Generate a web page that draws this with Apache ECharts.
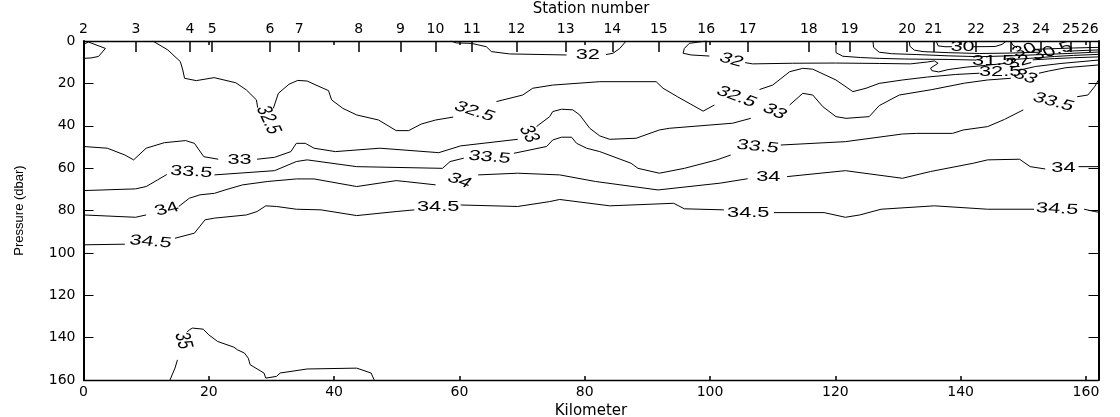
<!DOCTYPE html>
<html><head><meta charset="utf-8">
<script src="https://cdn.jsdelivr.net/npm/echarts@6/dist/echarts.min.js"></script>
<style>html,body{margin:0;padding:0;background:#fff}#chart{width:1120px;height:417px}</style>
</head><body><div id="chart"></div>
<script>
// ---- Data (km along section, pressure in dbar) ----
const kmTicks = [0, 20, 40, 60, 80, 100, 120, 140, 160];
const pressureTicks = [0, 20, 40, 60, 80, 100, 120, 140, 160];
const stationNumbers = [2,3,4,5,6,7,8,9,10,11,12,13,14,15,16,17,18,19,20,21,22,23,24,25,26];
const stationKm = [0,8.37,16.99,20.54,29.74,34.42,43.94,50.59,56.17,62.01,69.09,76.95,84.40,91.83,99.39,106.03,115.76,122.25,131.45,135.65,142.46,148.04,152.82,157.6,160.6];

// contour lines: [km, dbar]; null = gap where the label sits
const c30a = [[136.1,0],[136.4,2.3],[137.5,2.7],[138.6,2.7],null,[142.0,2.7],[145.5,2.6],[146.6,1.6],[147.3,0]];
const c30b = [[148.0,0],[148.3,1.9],[149.0,3.2],null,[151.6,4.0],[154,3.7],[158,3.3],[162,3.0]];
const c305 = [[131.8,0],[131.9,2.5],[132.6,4.3],[134,5.0],[138,5.5],[143,5.9],[148,5.7],[152.5,5.3],null,[157,4.8],[162,4.2]];
const c31 = [[126.0,0],[126.1,3.0],[127,5.3],[129,6.0],[133,6.4],[138,7.0],[143,7.4],[148,7.0],[153,6.4],[157,5.9],[162,5.2]];
const c315 = [[120.1,0],[120.1,5.5],[121.2,7.2],[124,7.8],[127,8.2],[131,8.5],[134,8.6],[138,8.7],[142.5,9.0],null,[148,8.8],[151,8.2],[155,7.3],[158,6.8],[162,6.3]];
const c32a = [[0,1.5],[0.8,0.5],[3.5,3.5],[2.4,7.3],[1.2,8.0],[0,8.2]];
const c32b = [[58.6,0],[59.5,0.9],[61.9,1.1],[64.3,2.7],[65.1,5.0],[68.0,6.1],[77.1,6.6],null,[83.4,6.4],[84.5,5.8],[85.6,3.5],[86.6,0]];
const c32c = [[99.4,0],[96.7,1.1],[95.9,3.5],[95.7,5.8],[97.0,6.6],[99.9,7.1],null,[105.6,10.2],[106.8,10.8],[113.2,10.5],[120,10.4],[127,10.6],[132,10.8],[134.7,9.9],[135.8,9.4],[136.4,10.5],[135.2,12.8],[135.4,14.0],[136.5,14.6],[138,13.5],[141,12.3],[144,11.5],[147,10.6],null,[151.5,8.9],[155,8.3],[158,7.9],[162,7.5]];
const c325 = [[11.06,0],[13.45,4.2],[15.45,9.7],[15.85,13.7],[16.13,17.6],[18.0,18.7],[20.85,17.3],[24.3,19.7],[26.0,23.1],[27.6,27.8],[27.8,31.5],null,[30.3,31.8],[31.1,24.7],[32.8,20.4],[34.2,18.6],[35.7,18.9],[37.1,20.8],[39.1,23.4],[39.6,27.8],[41.4,31.8],[43.6,34.9],[47.1,37.3],[49.9,42.3],[51.9,42.3],[53.9,39.2],[56.2,37.3],[59.0,35.9],null,[65.9,28.6],[70.1,25.5],[71.7,22.3],[74.9,20.8],[82.4,19.2],[91.4,19.2],[92.5,22.3],[94.8,26.3],[98.9,33.1],[100.7,30.2],null,[107.9,22.9],[110,20.8],[112.7,14.5],[114.8,12.9],[116.4,13.3],[120.1,18.4],[122.8,23.9],[124.9,22.3],[127,20.0],[130.7,18.4],[134.7,17.0],[139.2,15.8],[143,15.2],null,[149,14.0],[152,12.0],[156,10.6],[162,9.0]];
const c33 = [[0,49.8],[3.8,50.6],[6.6,53.8],[8.0,56.1],[10.0,50.6],[12.9,48.0],[16.3,47.0],[17.7,48.3],[19.2,54.6],[21.5,55.8],null,[27.7,55.8],[30.5,54.9],[33.1,52.2],[33.97,48.3],[35.4,48.3],[36.8,50.6],[40.2,52.2],[47.3,50.6],[56.7,52.7],[60.2,49.5],[69.3,46.4],null,[72.3,40.4],[74.4,35.7],[74.9,33.3],[76.3,32.2],[78.1,32.5],[79.2,34.9],[80.8,41.2],[82.4,44.8],[84.0,46.4],[88.2,45.9],[91.9,42.0],[93.5,41.2],[103.6,38.8],[106.5,36.5],null,[112.7,30.2],[114.8,24.7],[116.4,25.5],[118.0,31.0],[120.1,35.7],[121.7,36.5],[125.4,35.7],[127.0,30.5],[130.2,25.5],[135.3,23.0],[140.6,19.9],[144.3,18.4],[148,17.6],null,[152.5,15.2],[154,14.2],[156.8,12.6],[162,11.3]];
const c335 = [[0,70.6],[8.3,69.8],[10.0,68.7],[11.8,65.6],[13.3,63.0],null,[20.9,63.2],[30.5,61.2],[33.97,56.9],[35.7,56.1],[43.6,59.3],[57.3,60.1],[58.5,56.9],[60.7,55.3],null,[68.7,53.0],[73.9,49.8],[74.9,46.7],[76.3,45.4],[77.9,45.4],[78.7,48.3],[80.3,50.6],[82.4,52.2],[87.4,57.7],[88.5,60.1],[91.9,62.4],[95.9,60.1],[101.1,56.1],[103.3,53.8],null,[111.3,49.1],[121.6,47.5],[130.7,43.9],[133.0,43.6],[138.7,43.6],[140.4,42.0],[144.3,40.4],[147,37.0],[150.0,32.5],null,[158.6,26.3],[160.3,25.5],[161.4,21.5],[162,18.4]];
const c34 = [[0,82.1],[8.3,83.2],[10.0,82.1],null,[15.2,78.1],[16.9,74.2],[18.6,72.6],[20.9,71.9],[22.6,70.3],[25.4,67.9],[29.4,66.3],[33.97,65.1],[36.8,65.1],[43.6,68.7],[49.9,65.9],[51.6,66.4],[56.2,67.9],null,[63.0,63.2],[69.3,62.4],[76.0,63.2],[81.7,66.3],[91.7,70.3],[101.6,67.1],[106,65.0],null,[112.3,64.0],[121.6,61.2],[130.7,64.8],[135.2,61.6],[142.0,57.7],[144.3,56.1],[149.4,55.8],[151.1,59.3],[153.5,60.4],null,[158.8,59.3],[162,59.3]];
const c345 = [[0,96.2],[6.6,95.9],null,[14.6,93.1],[17.7,90.7],[19.4,84.4],[20.9,83.6],[26.0,82.1],[27.7,80.5],[29.1,77.8],[30.8,78.1],[33.97,79.4],[37.9,79.7],[43.6,82.4],[49.9,80.5],[52.8,79.7],null,[60.2,77.4],[69.3,78.1],[74.4,75.8],[76.0,74.8],[84.0,77.8],[94.2,76.6],[95.9,79.2],[102.2,79.7],null,[110.2,81.0],[118.2,81.0],[121.6,83.2],[123.9,82.1],[127.3,79.4],[135.8,77.8],[144.3,79.4],[151.7,79.4],null,[159.7,79.4],[161.4,80.5],[162,80.8]];
const c35 = [[13.8,160],[14.6,154.4],[15.0,150.5],null,[16.5,137.5],[16.9,136.3],[17.4,135.5],[19.1,136.0],[20.0,138.7],[21.4,141.8],[24.0,144.5],[24.6,145.8],[25.7,147.3],[26.3,149.7],[26.6,152.8],[28.8,156.7],[29.1,159.1],[30.8,158.3],[31.4,156.7],[35.7,154.8],[43.6,154.4],[45.9,156.7],[46.4,160]];

// contour labels: [km, dbar, level]
const contourLabels = [
  [29.5,37.3,32.5],[62.4,33.3,32.5],[104.2,26.3,32.5],[146.3,14.8,32.5],
  [80.5,6.6,32],[103.4,9.0,32],[149.3,9.9,32],
  [145.2,9.3,31.5],[140.3,2.7,30],[150.2,4.4,30],[154.6,4.9,30.5],
  [24.9,56.1,33],[71.1,43.9,33],[110.3,33.3,33],[150.3,16.8,33],
  [17.2,61.8,33.5],[64.8,54.9,33.5],[107.6,49.9,33.5],[154.8,28.8,33.5],
  [13.3,79.4,34],[60.0,65.9,34],[109.3,64.3,34],[156.4,60.1,34],
  [10.7,94.8,34.5],[56.6,78.5,34.5],[106.1,81.4,34.5],[155.4,79.3,34.5],
  [15.9,141.5,35]
];
const labelAngles = [-65,-18,-20,0, 0,-15,15, 0,0,15,15, 0,-60,-25,-20, -3,-5,-6,-15, 12,-20,0,0, -5,0,0,-3, -75];

// ---- Build chart ----
const contourLines = [c30a,c30b,c305,c31,c315,c32a,c32b,c32c,c325,c33,c335,c34,c345,c35];
const SX = 1.5; // the reference figure is horizontally stretched
const tickFont = {fontFamily:'DejaVu Sans', fontSize:14, color:'#000'};

function stationFor(v){
  for (let i=0;i<stationKm.length;i++) if (Math.abs(stationKm[i]-v)<1e-3) return String(stationNumbers[i]);
  return '';
}

const series = contourLines.map(pts => ({
  type:'line', xAxisIndex:0, yAxisIndex:0, showSymbol:false, symbol:'none', silent:true,
  connectNulls:false, animation:false, clip:true,
  lineStyle:{color:'#000', width:1},
  data: pts.map(p => p === null ? '-' : p)
}));
series.push({
  type:'custom', xAxisIndex:0, yAxisIndex:0, silent:true, animation:false,
  data: contourLabels.map((l,i)=>[l[0], l[1], l[2], labelAngles[i]]),
  renderItem(params, api){
    const p = api.coord([api.value(0), api.value(1)]);
    const deg = api.value(3);
    const t = Math.atan(SX*Math.tan(deg*Math.PI/180));
    return {type:'group', x:p[0], y:p[1], scaleX:SX, children:[{
      type:'text', rotation:t,
      style:{text:String(api.value(2)), x:0, y:0, fill:'#000',
        fontFamily:'Liberation Sans', fontSize:14.5,
        align:'center', verticalAlign:'middle', textAlign:'center', textVerticalAlign:'middle'}
    }]};
  }
});

const chart = echarts.init(document.getElementById('chart'), null, {renderer:'canvas'});
chart.setOption({
  backgroundColor:'#fff',
  animation:false,
  grid:{left:83.5, right:21.5, top:41, bottom:37, containLabel:false, outerBoundsMode:'none'},
  xAxis:[
    {type:'value', position:'bottom', min:0, max:162, interval:20,
     axisLine:{show:true, onZero:false, lineStyle:{color:'#000', width:1.3}},
     axisTick:{show:true, inside:true, length:4, lineStyle:{color:'#000', width:1.5}},
     axisLabel:{...tickFont, margin:5, formatter:v => kmTicks.includes(v) ? String(v) : ''},
     splitLine:{show:false},
     name:'Kilometer', nameLocation:'middle', nameGap:16,
     nameTextStyle:{fontFamily:'DejaVu Sans', fontSize:15, color:'#000'}},
    {type:'value', position:'top', min:0, max:162, interval:20,
     axisLine:{show:true, onZero:false, lineStyle:{color:'#000', width:1.3}},
     axisTick:{show:true, inside:true, length:4, lineStyle:{color:'#000', width:1.5}},
     axisLabel:{show:false}, splitLine:{show:false}},
    {type:'value', position:'top', min:0, max:162,
     axisLine:{show:false, onZero:false},
     axisTick:{show:true, inside:true, length:11, customValues:stationKm, lineStyle:{color:'#000', width:1.5}},
     axisLabel:{...tickFont, margin:5, customValues:stationKm, formatter:stationFor,
       hideOverlap:false, showMinLabel:true, showMaxLabel:true},
     splitLine:{show:false},
     name:'Station number', nameLocation:'middle', nameGap:22,
     nameTextStyle:{fontFamily:'DejaVu Sans', fontSize:15, color:'#000'}}
  ],
  yAxis:[
    {type:'value', position:'left', inverse:true, min:0, max:160, interval:20,
     axisLine:{show:true, onZero:false, lineStyle:{color:'#000', width:2}},
     axisTick:{show:true, inside:true, length:10, lineStyle:{color:'#000', width:1}},
     axisLabel:{...tickFont, margin:8, formatter:v => pressureTicks.includes(v) ? String(v) : ''},
     splitLine:{show:false},
     name:'Pressure (dbar)', nameLocation:'middle', nameGap:58,
     nameTextStyle:{fontFamily:'Liberation Sans', fontSize:13, color:'#000'}},
    {type:'value', position:'right', inverse:true, min:0, max:160, interval:20,
     axisLine:{show:true, onZero:false, lineStyle:{color:'#000', width:2}},
     axisTick:{show:true, inside:true, length:10, lineStyle:{color:'#000', width:1}},
     axisLabel:{show:false}, splitLine:{show:false}}
  ],
  series
});
</script></body></html>
